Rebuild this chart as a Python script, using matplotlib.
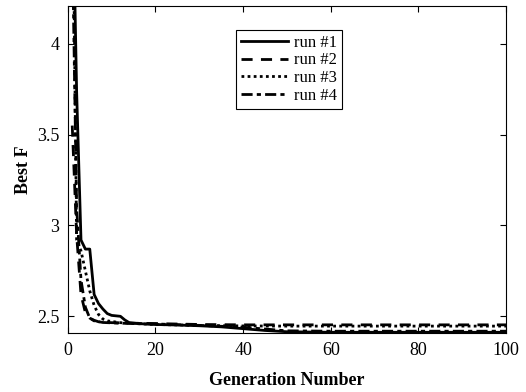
import matplotlib
matplotlib.use("Agg")
import matplotlib.pyplot as plt

plt.rcParams.update({
    "font.family": ["Liberation Serif", "DejaVu Serif"],
    "font.size": 13,
    "xtick.direction": "in",
    "ytick.direction": "in",
    "xtick.top": True,
    "ytick.right": True,
    "axes.linewidth": 0.8,
})

# best objective value per generation (breakpoints of each run)
gen_1 = [1, 2, 3, 4, 5, 6, 7, 8, 9, 10, 12, 13, 14, 16, 20, 25, 30, 35, 40, 45, 50, 60, 70, 80, 90, 100]
f_1 = [5.0, 3.74, 2.92, 2.87, 2.87, 2.62, 2.57, 2.54, 2.515, 2.505, 2.50, 2.48, 2.465, 2.46, 2.455,
       2.452, 2.448, 2.442, 2.432, 2.422, 2.415, 2.412, 2.412, 2.412, 2.412, 2.412]

gen_2 = [1, 2, 3, 4, 5, 6, 7, 8, 10, 15, 20, 30, 40, 60, 80, 100]
f_2 = [3.55, 2.95, 2.62, 2.52, 2.49, 2.478, 2.47, 2.468, 2.465, 2.462, 2.46, 2.455, 2.453, 2.453, 2.453, 2.453]

gen_3 = [1, 2, 3, 4, 5, 6, 7, 8, 9, 12, 15, 20, 30, 40, 50, 60, 80, 100]
f_3 = [5.2, 2.92, 2.86, 2.75, 2.64, 2.56, 2.51, 2.485, 2.475, 2.465, 2.46, 2.455, 2.45, 2.447, 2.446,
       2.446, 2.446, 2.446]

gen_4 = [1, 2, 3, 4, 5, 6, 8, 12, 20, 30, 40, 45, 50, 60, 80, 100]
f_4 = [4.6, 3.1, 2.7, 2.55, 2.49, 2.475, 2.466, 2.462, 2.458, 2.45, 2.44, 2.43, 2.42, 2.418, 2.418, 2.418]

labels = ["run #1", "run #2", "run #3", "run #4"]
styles = ["-", (0, (4, 3)), (0, (1, 1.2)), (0, (4, 1.5, 1.5, 1.5))]

fig = plt.figure(figsize=(5.26, 3.92), dpi=100)
ax = fig.add_axes([0.129, 0.150, 0.833, 0.835])

for g, f, lab, ls in zip([gen_1, gen_2, gen_3, gen_4], [f_1, f_2, f_3, f_4], labels, styles):
    ax.plot(g, f, color="black", linestyle=ls, linewidth=2, label=lab)

ax.set_xlim(0, 100)
ax.set_ylim(2.407, 4.209)
ax.set_xticks([0, 20, 40, 60, 80, 100])
ax.set_yticks([2.5, 3, 3.5, 4])
ax.set_yticklabels(["2.5", "3", "3.5", "4"])
ax.tick_params(length=4, width=0.8, pad=6)
ax.set_xlabel("Generation Number", fontweight="bold", labelpad=10)
ax.set_ylabel("Best F", fontweight="bold")

leg = ax.legend(loc="upper left", bbox_to_anchor=(0.384, 0.927), borderaxespad=0,
                fancybox=False, framealpha=1, edgecolor="black", fontsize=12,
                handlelength=2.8, labelspacing=0.1, handletextpad=0.4, borderpad=0.3)
leg.get_frame().set_linewidth(0.8)

fig.savefig("out.png", dpi=100)
